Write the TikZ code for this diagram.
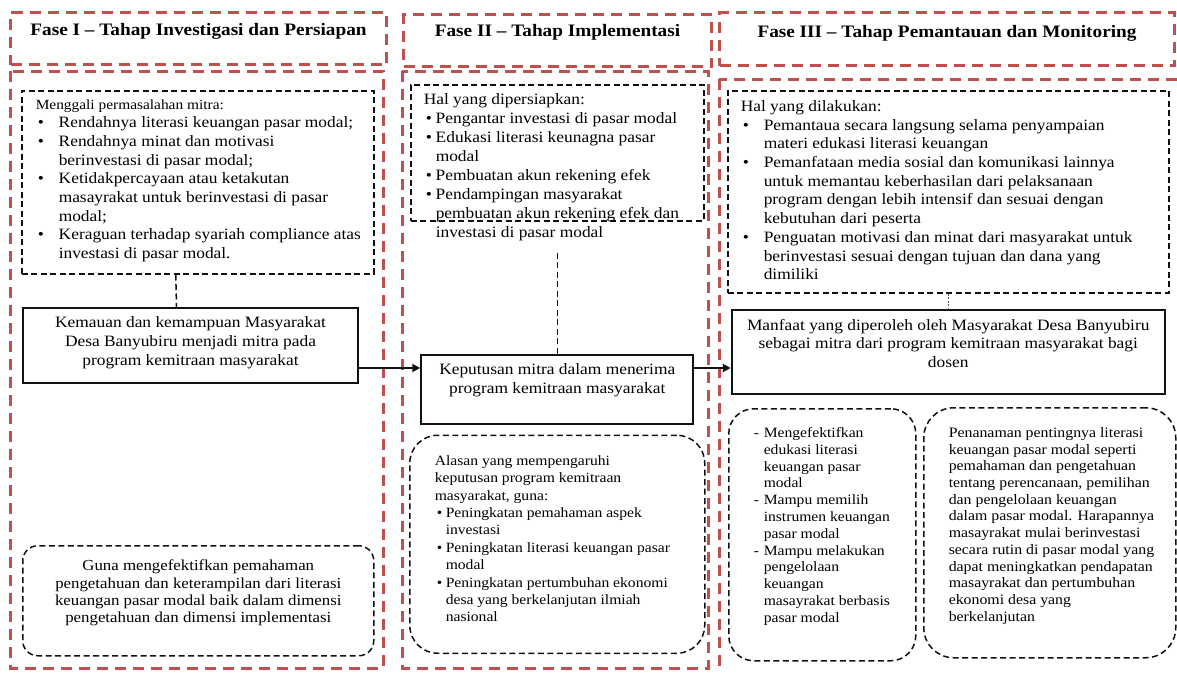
\documentclass[tikz,border=0pt]{standalone}
\usepackage{fontspec}
\setmainfont{Liberation Serif}[FakeStretch=1.1]
\usepackage{tikz}
\usetikzlibrary{arrows.meta,positioning}
\definecolor{PhaseRed}{HTML}{C0504D}
\definecolor{Ink}{HTML}{111111}
\newcommand{\boxpar}[4]{\parbox[c][#2][t]{#1}{\vspace*{#3}#4}}
\newcommand{\bul}[1]{\makebox[#1][l]{\hspace{2pt}\textbullet}}
\newcommand{\dashitem}{\makebox[10pt][l]{-}}

\begin{document}
\begin{tikzpicture}[
  x=1pt, y=-1pt,
  phasehead/.style={draw=PhaseRed, line width=3pt, dash pattern=on 11pt off 7pt, inner sep=0pt, anchor=north west, font=\fontsize{17.5}{21}\selectfont\bfseries},
  phaseframe/.style={draw=PhaseRed, line width=3pt, dash pattern=on 11pt off 7pt},
  notebox/.style={draw=Ink, line width=1.5pt, dash pattern=on 6pt off 3.5pt, inner sep=0pt, font=\fontsize{15.8}{18.7}\selectfont},
  roundnote/.style={notebox, rounded corners=#1}, roundnote/.default=26pt,
  mainbox/.style={draw=Ink, line width=2pt, inner sep=0pt, font=\fontsize{15.8}{18.7}\selectfont},
  link/.style={draw=Ink, line width=1.5pt, dash pattern=on 6pt off 3.5pt},
  thinlink/.style={draw=Ink!70, line width=0.6pt, dash pattern=on 2pt off 1.5pt},
  flowarrow/.style={-{Triangle[length=8pt,width=8pt]}, line width=2pt, draw=Ink}
]
\useasboundingbox (0,0) rectangle (1177,672);
\clip (0,0) rectangle (1177,672);
\draw[phaseframe] (10,71) rectangle (383,668);
\draw[phaseframe] (402,71) rectangle (708,668);
\draw[phaseframe] (719,79) rectangle (1200,700);

\node[phasehead] (phaseone) at (9,11) {\boxpar{376pt}{52pt}{8.6pt}{\centering\begin{tabular}[t]{@{}c@{}}Fase I – Tahap Investigasi dan Persiapan\end{tabular}}};
\node[notebox, anchor=north west] (problems) at (21,90) {\boxpar{352pt}{183pt}{5.2pt}{\hspace*{14pt}\begin{tabular}[t]{@{}l@{}}
{\fontsize{14}{18.7}\selectfont Menggali permasalahan mitra:}\\
\bul{23pt}Rendahnya literasi keuangan pasar modal;\\
\bul{23pt}Rendahnya minat dan motivasi\\
\hspace{23pt}berinvestasi di pasar modal;\\
\bul{23pt}Ketidakpercayaan atau ketakutan\\
\hspace{23pt}masayrakat untuk berinvestasi di pasar\\
\hspace{23pt}modal;\\
\bul{23pt}Keraguan terhadap syariah compliance atas\\
\hspace{23pt}investasi di pasar modal.
\end{tabular}}};
\node[mainbox, anchor=north west, font=\fontsize{15.8}{19}\selectfont] (willing) at (22,307) {\boxpar{335pt}{75pt}{5.7pt}{\centering\begin{tabular}[t]{@{}c@{}}Kemauan dan kemampuan Masyarakat\\Desa Banyubiru menjadi mitra pada\\program kemitraan masyarakat\end{tabular}}};
\node[roundnote=15pt, anchor=north west, font=\fontsize{15.3}{17.4}\selectfont] (purpose) at (22,545) {\boxpar{351pt}{110pt}{12.8pt}{\centering\begin{tabular}[t]{@{}c@{}}Guna mengefektifkan pemahaman\\pengetahuan dan keterampilan dari literasi\\keuangan pasar modal baik dalam dimensi\\pengetahuan dan dimensi implementasi\end{tabular}}};

\node[phasehead] (phasetwo) at (402,13) {\boxpar{308pt}{52pt}{7.3pt}{\centering\begin{tabular}[t]{@{}c@{}}Fase II – Tahap Implementasi\end{tabular}}};
\node[notebox, anchor=north west, font=\fontsize{15.8}{19}\selectfont] (prepared) at (410,84) {\boxpar{293pt}{136pt}{6.7pt}{\hspace*{13pt}\begin{tabular}[t]{@{}l@{}}
Hal yang dipersiapkan:\\
\bul{12pt}Pengantar investasi di pasar modal\\
\bul{12pt}Edukasi literasi keunagna pasar\\
\hspace{12pt}modal\\
\bul{12pt}Pembuatan akun rekening efek\\
\bul{12pt}Pendampingan masyarakat\\
\hspace{12pt}pembuatan akun rekening efek dan\\
\hspace{12pt}investasi di pasar modal
\end{tabular}}};
\node[mainbox, below=132pt of prepared] (decision) {\boxpar{272pt}{69pt}{6.9pt}{\centering\begin{tabular}[t]{@{}c@{}}Keputusan mitra dalam menerima\\program kemitraan masyarakat\end{tabular}}};
\node[roundnote=28pt, below=10pt of decision, font=\fontsize{14.2}{17.4}\selectfont] (reasons) {\boxpar{295pt}{218pt}{17.8pt}{\hspace*{25pt}\begin{tabular}[t]{@{}l@{}}
Alasan yang mempengaruhi\\
keputusan program kemitraan\\
masyarakat, guna:\\
\bul{11pt}Peningkatan pemahaman aspek\\
\hspace{11pt}investasi\\
\bul{11pt}Peningkatan literasi keuangan pasar\\
\hspace{11pt}modal\\
\bul{11pt}Peningkatan pertumbuhan ekonomi\\
\hspace{11pt}desa yang berkelanjutan ilmiah\\
\hspace{11pt}nasional
\end{tabular}}};

\node[phasehead] (phasethree) at (718,11) {\boxpar{455pt}{53pt}{10pt}{\centering\begin{tabular}[t]{@{}c@{}}Fase III – Tahap Pemantauan dan Monitoring\end{tabular}}};
\node[notebox, anchor=north west] (monitored) at (727,90) {\boxpar{441pt}{202pt}{7.6pt}{\hspace*{13pt}\begin{tabular}[t]{@{}l@{}}
Hal yang dilakukan:\\
\bul{23pt}Pemantaua secara langsung selama penyampaian\\
\hspace{23pt}materi edukasi literasi keuangan\\
\bul{23pt}Pemanfataan media sosial dan komunikasi lainnya\\
\hspace{23pt}untuk memantau keberhasilan dari pelaksanaan\\
\hspace{23pt}program dengan lebih intensif dan sesuai dengan\\
\hspace{23pt}kebutuhan dari peserta\\
\bul{23pt}Penguatan motivasi dan minat dari masyarakat untuk\\
\hspace{23pt}berinvestasi sesuai dengan tujuan dan dana yang\\
\hspace{23pt}dimiliki
\end{tabular}}};
\node[mainbox, below=15pt of monitored, font=\fontsize{15.8}{18.3}\selectfont] (benefit) {\boxpar{433pt}{84pt}{8.2pt}{\centering\begin{tabular}[t]{@{}c@{}}Manfaat yang diperoleh oleh Masyarakat Desa Banyubiru\\sebagai mitra dari program kemitraan masyarakat bagi\\dosen\end{tabular}}};
\node[roundnote=25pt, anchor=north west, font=\fontsize{14.2}{16.8}\selectfont] (skills) at (728,408) {\boxpar{187pt}{252pt}{16.9pt}{\hspace*{25pt}\begin{tabular}[t]{@{}l@{}}
\dashitem Mengefektifkan\\
\hspace{10pt}edukasi literasi\\
\hspace{10pt}keuangan pasar\\
\hspace{10pt}modal\\
\dashitem Mampu memilih\\
\hspace{10pt}instrumen keuangan\\
\hspace{10pt}pasar modal\\
\dashitem Mampu melakukan\\
\hspace{10pt}pengelolaan\\
\hspace{10pt}keuangan\\
\hspace{10pt}masayrakat berbasis\\
\hspace{10pt}pasar modal
\end{tabular}}};
\node[roundnote=30pt, anchor=north west, font=\fontsize{14.4}{16.7}\selectfont] (hopes) at (923,407) {\boxpar{252pt}{250pt}{18pt}{\hspace*{25pt}\begin{tabular}[t]{@{}l@{}}
Penanaman pentingnya literasi\\
keuangan pasar modal seperti\\
pemahaman dan pengetahuan\\
tentang perencanaan, pemilihan\\
dan pengelolaan keuangan\\
dalam pasar modal. Harapannya\\
masayrakat mulai berinvestasi\\
secara rutin di pasar modal yang\\
dapat meningkatkan pendapatan\\
masayrakat dan pertumbuhan\\
ekonomi desa yang\\
berkelanjutan
\end{tabular}}};

\coordinate (lane) at (0,368);
\draw[link] ([xshift=-22pt]problems.south) -- ([xshift=-14pt]willing.north);
\draw[link] (decision.north) -- ([yshift=101pt]decision.north);
\draw[thinlink] (monitored.south) -- (monitored.south |- benefit.north);
\draw[flowarrow] (willing.east |- lane) -- (decision.west |- lane);
\draw[flowarrow] (decision.east |- lane) -- (benefit.west |- lane);
\end{tikzpicture}
\end{document}
